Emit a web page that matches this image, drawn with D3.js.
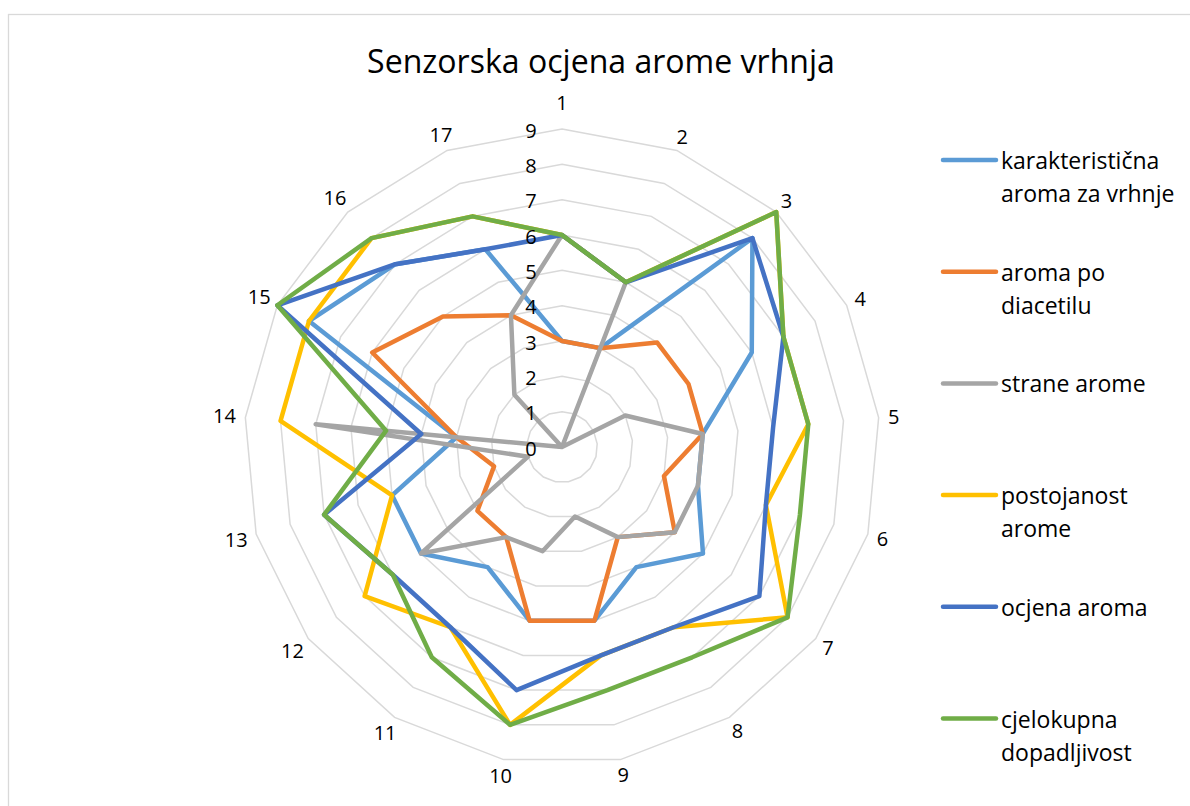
<!DOCTYPE html>
<html>
<head>
<meta charset="utf-8">
<script src="https://cdn.jsdelivr.net/npm/d3@7"></script>
<style>
  html, body { margin: 0; padding: 0; background: #fff; }
  svg { display: block; }
  text { font-family: "Open Sans", "Noto Sans", sans-serif; fill: #000; }
</style>
</head>
<body>
<svg id="chart" width="1190" height="806"></svg>
<script>
// ---------- data ----------
const title = "Senzorska ocjena arome vrhnja";
const categories = ["1","2","3","4","5","6","7","8","9","10","11","12","13","14","15","16","17"];
const tickValues = [0,1,2,3,4,5,6,7,8,9];
const seriesNames = [
  ["karakteristična", "aroma za vrhnje"],
  ["aroma po", "diacetilu"],
  ["strane arome"],
  ["postojanost", "arome"],
  ["ocjena aroma"],
  ["cjelokupna", "dopadljivost"]
];
const karakteristicnaAroma = [3,3,8,6,4,4,5,4,5,5,4,5,5,3,8,7,6];
const aromaPoDiacetilu     = [3,3,4,4,4,3,4,3,5,5,3,3,2,3,6,5,4];
const straneArome          = [6,5,0,2,4,4,4,3,2,3,3,5,1,7,0,2,4];
const postojanostArome     = [6,5,9,7,7,6,8,6,6,8,6,7,5,8,8,8,7];
const ocjenaAroma          = [6,5,8,7,6,6,7,6,6,7,6,6,7,4,9,7,6];
const cjelokupnaDopadljivost = [6,5,9,7,7,7,8,7,7,8,7,6,7,5,9,8,7];
const seriesValues = [karakteristicnaAroma, aromaPoDiacetilu, straneArome, postojanostArome, ocjenaAroma, cjelokupnaDopadljivost];
const seriesColors = ["#5B9BD5", "#ED7D31", "#A5A5A5", "#FFC000", "#4472C4", "#70AD47"];

// ---------- layout ----------
const svg = d3.select("#chart");
const cx = 562, cy = 447, R = 318;

// chart border
svg.append("rect")
  .attr("x", 8.5).attr("y", 14.5)
  .attr("width", 1200).attr("height", 820)
  .attr("fill", "none").attr("stroke", "#d9d9d9").attr("stroke-width", 1.3);

const r = d3.scaleLinear().domain([0, 9]).range([0, R]);
const angle = d3.scaleLinear().domain([0, categories.length]).range([0, 2 * Math.PI]);

const g = svg.append("g").attr("transform", `translate(${cx},${cy})`);

// grid rings
const ringLine = d3.lineRadial()
  .angle((d, i) => angle(i))
  .radius(d => r(d))
  .curve(d3.curveLinearClosed);

g.append("g").selectAll("path")
  .data(tickValues.filter(t => t > 0))
  .join("path")
  .attr("d", t => ringLine(categories.map(() => t)))
  .attr("fill", "none")
  .attr("stroke", "#d9d9d9")
  .attr("stroke-width", 1.5);

// series
const seriesLine = d3.lineRadial()
  .angle((d, i) => angle(i))
  .radius(d => r(d))
  .curve(d3.curveLinearClosed);

g.append("g").selectAll("path")
  .data(seriesValues)
  .join("path")
  .attr("d", d => seriesLine(d))
  .attr("fill", "none")
  .attr("stroke", (d, i) => seriesColors[i])
  .attr("stroke-width", 4.5)
  .attr("stroke-linejoin", "round");

// category labels
const catFont = 20;
const catLabels = g.append("g").selectAll("text")
  .data(categories)
  .join("text")
  .attr("font-size", catFont)
  .attr("text-anchor", "middle")
  .attr("dominant-baseline", "central")
  .text(d => d);

catLabels.each(function(d, i) {
  const w = this.getComputedTextLength();
  const a = angle(i);
  const s = Math.sin(a), c = Math.cos(a);
  let rr = R + 15 + (w - 11) / 2 * Math.abs(s);
  if (i === 0) rr += 12;
  d3.select(this).attr("x", rr * s).attr("y", -rr * c);
});

// tick labels
g.append("g").selectAll("text")
  .data(tickValues)
  .join("text")
  .attr("font-size", catFont)
  .attr("text-anchor", "middle")
  .attr("dominant-baseline", "central")
  .attr("x", -31)
  .attr("y", d => -r(d) + 1)
  .text(d => d);

// title, fitted to the reference width
const titleText = svg.append("text")
  .attr("x", 601).attr("y", 60)
  .attr("text-anchor", "middle")
  .attr("dominant-baseline", "central")
  .attr("font-size", 32)
  .text(title);
const tw = titleText.node().getComputedTextLength();
titleText.attr("font-size", 32 * 468 / tw);

// legend
const legend = svg.append("g");
const legY0 = 160, legStep = 111.7, legFont = 23, legLineH = 33;
seriesNames.forEach((lines, i) => {
  const y = legY0 + i * legStep;
  legend.append("line")
    .attr("x1", 943).attr("x2", 996)
    .attr("y1", y).attr("y2", y)
    .attr("stroke", seriesColors[i])
    .attr("stroke-width", 4.5)
    .attr("stroke-linecap", "round");
  const t = legend.append("text")
    .attr("x", 1001).attr("y", y)
    .attr("font-size", legFont)
    .attr("dominant-baseline", "central");
  lines.forEach((ln, j) => {
    t.append("tspan").attr("x", 1001).attr("y", y + j * legLineH).text(ln);
  });
});
</script>
</body>
</html>
